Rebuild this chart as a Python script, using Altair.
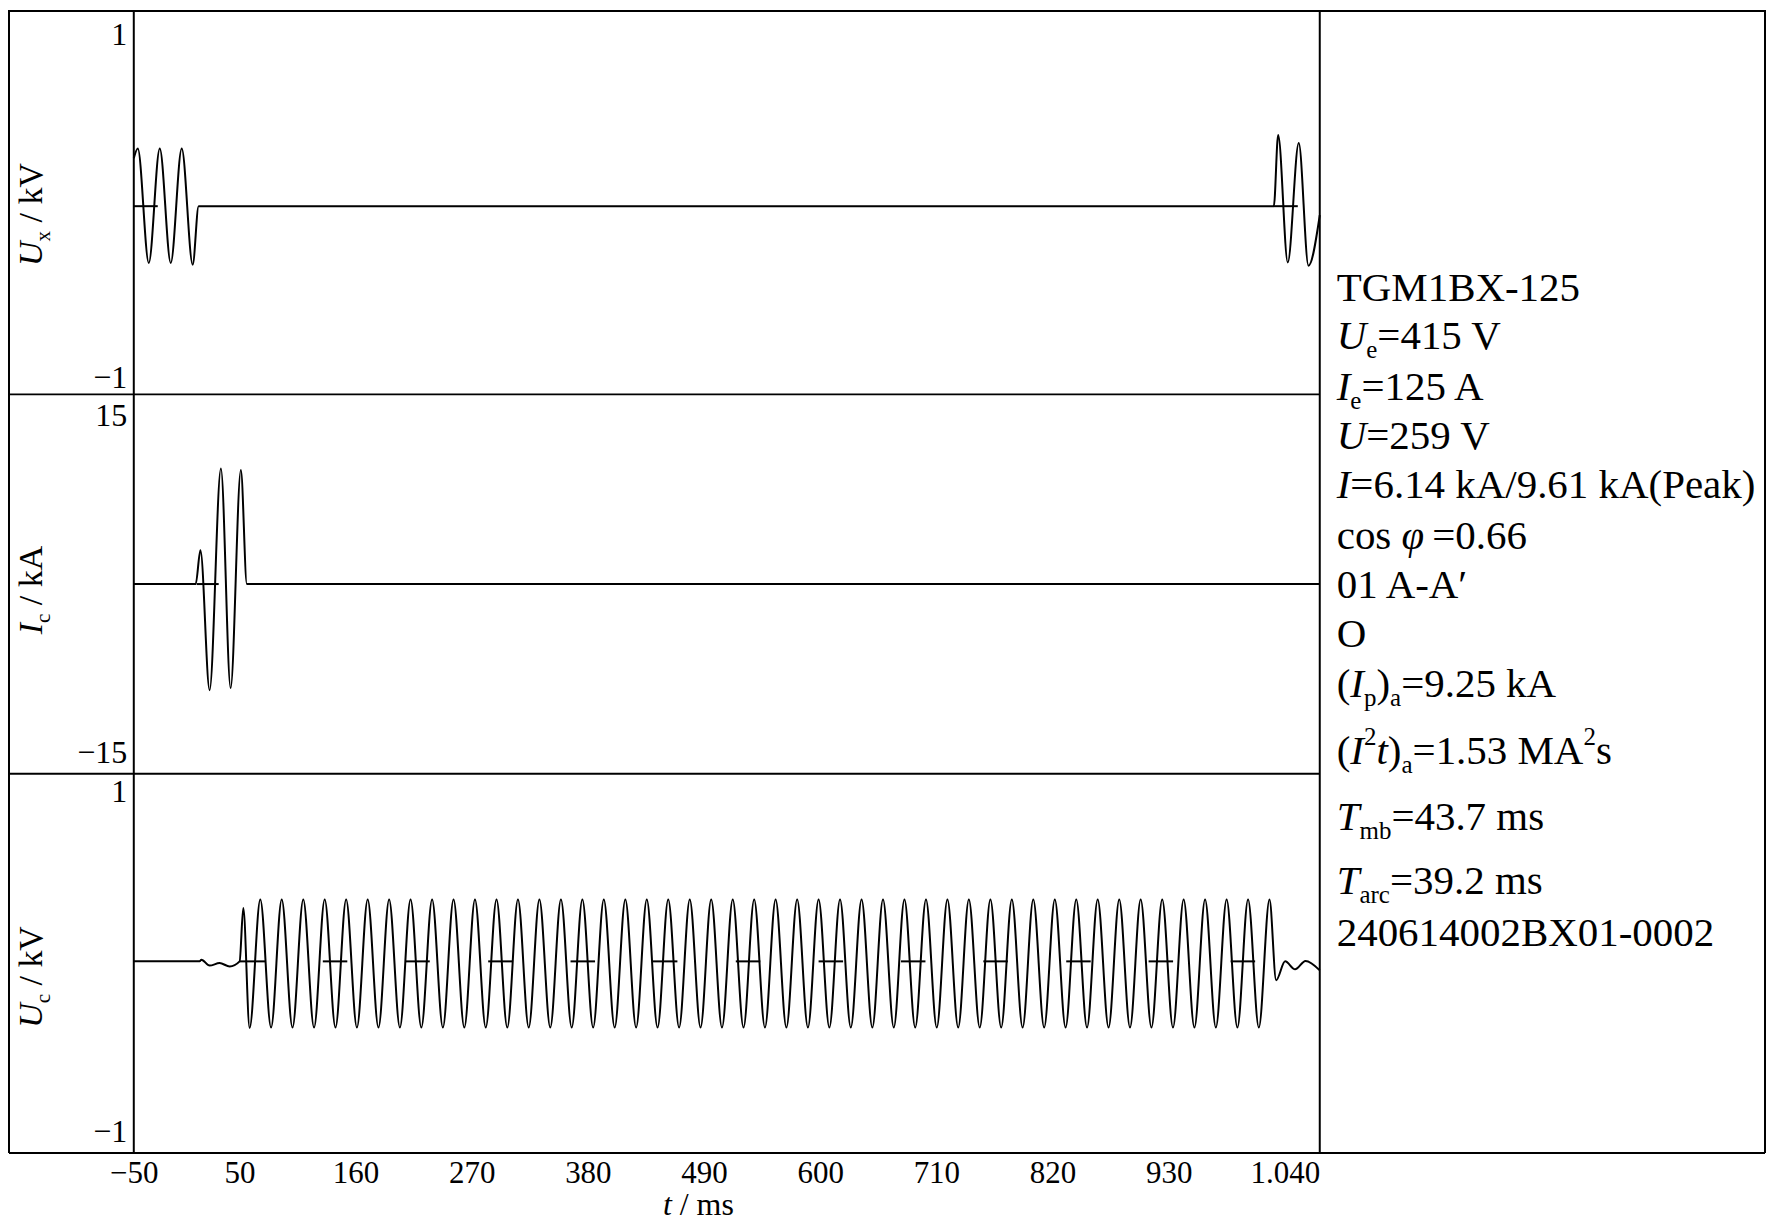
import altair as alt
import pandas as pd

# ---------------- data ----------------
# time axis in ms
X_DOMAIN = [-50.0, 1073.1]
X_TICKS = [-50, 50, 160, 270, 380, 490, 600, 710, 820, 930, 1040]

# U_x / kV  (extrema of the trace)
UX_T = [-50.0, -46.2, -35.8, -25.4, -15.0, -4.6, 5.8, 11.4,
        1029.6, 1033.7, 1042.8, 1053.2, 1062.4, 1073.1]
UX_V = [0.28, 0.337, -0.331, 0.337, -0.331, 0.337, -0.341, 0.0,
        0.0, 0.416, -0.328, 0.368, -0.347, -0.052]
UX_MARK_START = [-50.0, 1029.6]
UX_MARK_END = [-27.3, 1052.3]
UX_DOMAIN = [-1.098, 1.1445]
UX_TICKS = [-1, 1]

# I_c / kA
IC_T = [-50.0, 8.6, 13.1, 21.8, 32.5, 41.7, 51.4, 57.1, 1073.1]
IC_V = [0.0, 0.0, 3.0, -9.43, 10.27, -9.25, 10.14, 0.0, 0.0]
IC_MARK_START = [9.6]
IC_MARK_END = [30.4]
IC_DOMAIN = [-16.86, 16.86]
IC_TICKS = [-15, 15]

# U_c / kV
UC_HEAD_T = [-50.0, 12.4, 14.0, 21.8, 31.3, 40.8, 50.2, 53.7]
UC_HEAD_V = [0.0, 0.0, 0.01, -0.025, -0.01, -0.03, 0.0, 0.314]
UC_TROUGH_T = [59.7, 80.0, 100.3, 120.7, 141.0, 161.3, 181.7, 202.0, 222.3, 242.7,
               263.0, 283.3, 303.7, 324.0, 344.4, 364.7, 385.0, 405.4, 425.7, 446.0,
               466.4, 486.7, 507.0, 527.4, 547.7, 568.0, 588.4, 608.7, 629.0, 649.4,
               669.7, 690.0, 710.4, 730.7, 751.1, 771.4, 791.7, 812.1, 832.4, 852.7,
               873.1, 893.4, 913.7, 934.1, 954.4, 974.7, 995.1, 1015.4]
UC_TROUGH_V = [-0.392, -0.39, -0.39, -0.39, -0.39, -0.39, -0.39, -0.39, -0.39, -0.39,
               -0.39, -0.39, -0.39, -0.39, -0.39, -0.39, -0.39, -0.39, -0.39, -0.39,
               -0.39, -0.39, -0.39, -0.39, -0.39, -0.39, -0.39, -0.39, -0.39, -0.39,
               -0.39, -0.39, -0.39, -0.39, -0.39, -0.39, -0.39, -0.39, -0.39, -0.39,
               -0.39, -0.39, -0.39, -0.39, -0.39, -0.39, -0.39, -0.39]
UC_PEAK_T = [69.8, 90.1, 110.5, 130.8, 151.1, 171.5, 191.8, 212.1, 232.5, 252.8,
             273.1, 293.5, 313.8, 334.1, 354.5, 374.8, 395.1, 415.5, 435.8, 456.1,
             476.5, 496.8, 517.2, 537.5, 557.8, 578.2, 598.5, 618.8, 639.2, 659.5,
             679.8, 700.2, 720.5, 740.8, 761.2, 781.5, 801.8, 822.2, 842.5, 862.8,
             883.2, 903.5, 923.9, 944.2, 964.5, 984.9, 1005.2, 1025.5]
UC_PEAK_V = [0.365, 0.365, 0.365, 0.365, 0.365, 0.365, 0.365, 0.365, 0.365, 0.365,
             0.365, 0.365, 0.365, 0.365, 0.365, 0.365, 0.365, 0.365, 0.365, 0.365,
             0.365, 0.365, 0.365, 0.365, 0.365, 0.365, 0.365, 0.365, 0.365, 0.365,
             0.365, 0.365, 0.365, 0.365, 0.365, 0.365, 0.365, 0.365, 0.365, 0.365,
             0.365, 0.365, 0.365, 0.365, 0.365, 0.365, 0.365, 0.365]
UC_TAIL_T = [1031.8, 1040.3, 1049.7, 1059.6, 1073.1]
UC_TAIL_V = [-0.111, 0.0, -0.047, 0.002, -0.053]
UC_MARK_START = [50.2, 129.0, 207.1, 285.6, 363.6, 441.6, 520.1, 598.5, 676.5,
                 754.5, 833.0, 911.0, 988.7]
UC_MARK_END = [74.5, 152.2, 230.3, 308.8, 386.8, 464.8, 543.3, 621.7, 699.7,
               777.7, 856.2, 934.2, 1011.9]
UC_DOMAIN = [-1.129, 1.105]
UC_TICKS = [-1, 1]

# text (i = italic, s = subscript, p = superscript, n = normal)
INFO_LINES = [
    [("TGM1BX-125", "n")],
    [("U", "i"), ("e", "s"), ("=415 V", "n")],
    [("I", "i"), ("e", "s"), ("=125 A", "n")],
    [("U", "i"), ("=259 V", "n")],
    [("I", "i"), ("=6.14 kA/9.61 kA(Peak)", "n")],
    [("cos ", "n"), ("φ", "i"), (" =0.66", "n")],
    [("01 A-A′", "n")],
    [("O", "n")],
    [("(", "n"), ("I", "i"), ("p", "s"), (")", "n"), ("a", "s"), ("=9.25 kA", "n")],
    [("(", "n"), ("I", "i"), ("2", "p"), ("t", "i"), (")", "n"), ("a", "s"),
     ("=1.53 MA", "n"), ("2", "p"), ("s", "n")],
    [("T", "i"), ("mb", "s"), ("=43.7 ms", "n")],
    [("T", "i"), ("arc", "s"), ("=39.2 ms", "n")],
    [("240614002BX01-0002", "n")],
]
Y_TITLES = [
    [("U", "i"), ("x", "s"), (" / kV", "n")],
    [("I", "i"), ("c", "s"), (" / kA", "n")],
    [("U", "i"), ("c", "s"), (" / kV", "n")],
]
X_TITLE = [("t", "i"), (" / ms", "n")]

# ---------------- layout ----------------
W = 1188
H = [385, 380, 380]
TOP = [0, H[0], H[0] + H[1]]
TOTAL = sum(H)
TW = 446
LEFT = -125
FONT = "Liberation Serif"
YT_FS = 34      # rotated axis title size
YT_SUB = 21
XT_FS = 32

REG = {' ': 250, '(': 333, ')': 333, '-': 333, '.': 250, '/': 278, '=': 564,
       'A': 722, 'B': 667, 'G': 722, 'M': 889, 'O': 722, 'P': 556, 'T': 611,
       'V': 722, 'X': 722, 'a': 444, 'c': 444, 'e': 444, 'k': 500, 'm': 778,
       'o': 500, 's': 389, 'p': 500, 'b': 500, 'r': 333, 'x': 500, '′': 275}
ITA = {'U': 722, 'I': 333, 'T': 556, 't': 278, 'φ': 500}


def width(s, italic, fs):
    tot = 0
    for ch in s:
        if italic and ch in ITA:
            tot += ITA[ch]
        else:
            tot += REG.get(ch, 500)
    return tot / 1000.0 * fs


rows = []
# info block
INFO_BASE = [(y - 2) * 0.994 for y in [295, 344, 395, 444, 494, 545, 595, 644, 694,
                                       762, 828, 893, 945]]
for line, base in zip(INFO_LINES, INFO_BASE):
    x = W + 17
    for txt, st in line:
        fs = 41 if st in ("n", "i") else 25
        lead = len(txt) - len(txt.lstrip(" "))
        dy = 9 if st == "s" else (-19 if st == "p" else 0)
        style = {"n": "n41", "i": "i41", "s": "s25", "p": "s25"}[st]
        rows.append(dict(px=x + lead * 0.25 * fs, py=base + dy, txt=txt.strip(" "), style=style))
        x += width(txt, st == "i", fs)

# rotated y titles
Y_CENTER = [204.8, 581.0, 968.6]
for pieces, c in zip(Y_TITLES, Y_CENTER):
    sizes = [YT_SUB if st == "s" else YT_FS for _, st in pieces]
    L = sum(width(t, st == "i", fs) for (t, st), fs in zip(pieces, sizes))
    off = 0
    for (txt, st), fs in zip(pieces, sizes):
        lead = len(txt) - len(txt.lstrip(" "))
        style = {"n": "rn", "i": "ri", "s": "rs"}[st]
        rows.append(dict(px=-92 + (8 if st == "s" else 0),
                         py=c + L / 2 - off - lead * 0.25 * fs,
                         txt=txt.strip(" "), style=style))
        off += width(txt, st == "i", fs)

# x title
x = 530
for txt, st in X_TITLE:
    lead = len(txt) - len(txt.lstrip(" "))
    rows.append(dict(px=x + lead * 0.25 * XT_FS, py=TOTAL + 62, txt=txt.strip(" "),
                     style="xi" if st == "i" else "xn"))
    x += width(txt, st == "i", XT_FS)

text_df = pd.DataFrame(rows)

frame_df = pd.DataFrame([
    dict(x1=LEFT, x2=W + TW, y1=1, y2=1),
    dict(x1=LEFT, x2=W + TW, y1=TOTAL, y2=TOTAL),
    dict(x1=LEFT, x2=LEFT, y1=0, y2=TOTAL),
    dict(x1=0, x2=0, y1=0, y2=TOTAL),
    dict(x1=W, x2=W, y1=0, y2=TOTAL),
    dict(x1=W + TW, x2=W + TW, y1=0, y2=TOTAL),
    dict(x1=LEFT, x2=W, y1=TOP[1], y2=TOP[1]),
    dict(x1=LEFT, x2=W, y1=TOP[2], y2=TOP[2]),
])


def wave_df(t, v, ms, me):
    r = [dict(t=a, v=b, seg=0) for a, b in zip(t, v)]
    for i, (s, e) in enumerate(zip(ms, me)):
        r.append(dict(t=s, v=0.0, seg=i + 1))
        r.append(dict(t=e, v=0.0, seg=i + 1))
    return pd.DataFrame(r)


uc_t = list(UC_HEAD_T)
uc_v = list(UC_HEAD_V)
for tt, tv, pt, pv in zip(UC_TROUGH_T, UC_TROUGH_V, UC_PEAK_T, UC_PEAK_V):
    uc_t += [tt, pt]
    uc_v += [tv, pv]
uc_t += UC_TAIL_T
uc_v += UC_TAIL_V

panels = [
    (wave_df(UX_T, UX_V, UX_MARK_START, UX_MARK_END), UX_DOMAIN, UX_TICKS, 0),
    (wave_df(IC_T, IC_V, IC_MARK_START, IC_MARK_END), IC_DOMAIN, IC_TICKS, 1),
    (wave_df(uc_t, uc_v, UC_MARK_START, UC_MARK_END), UC_DOMAIN, UC_TICKS, 2),
]

x_enc = alt.X(
    "t:Q",
    scale=alt.Scale(domain=X_DOMAIN, nice=False, zero=False),
    axis=alt.Axis(values=X_TICKS, title=None, domain=False, ticks=False, tickSize=0,
                  grid=False, labelPadding=5, labelFont=FONT, labelFontSize=31,
                  labelColor="black", labelFlush=False, labelOverlap=False,
                  labelExpr="datum.value == 1040 ? '1.040' : datum.label"),
)

layers = [
    alt.Chart(frame_df).mark_rule(color="black", strokeWidth=2).encode(
        x=alt.X("x1:Q", scale=None, axis=None),
        x2="x2:Q",
        y=alt.Y("y1:Q", scale=None, axis=None),
        y2="y2:Q",
    )
]

for df, dom, ticks, i in panels:
    layers.append(
        alt.Chart(df).mark_line(interpolate="monotone", color="black", strokeWidth=2).encode(
            x=x_enc,
            y=alt.Y("v:Q",
                    scale=alt.Scale(domain=dom, range=[TOP[i] + H[i], TOP[i]], nice=False, zero=False),
                    axis=alt.Axis(values=ticks, title=None, orient="left", domain=False,
                                  ticks=False, tickSize=0, grid=False, labelPadding=7,
                                  labelFont=FONT, labelFontSize=32, labelColor="black",
                                  labelOverlap=False)),
            detail="seg:N",
        )
    )

STYLE_PROPS = {
    "n41": dict(fontSize=41),
    "i41": dict(fontSize=41, fontStyle="italic"),
    "s25": dict(fontSize=25),
    "xn": dict(fontSize=XT_FS),
    "xi": dict(fontSize=XT_FS, fontStyle="italic"),
    "rn": dict(fontSize=YT_FS, angle=270),
    "ri": dict(fontSize=YT_FS, fontStyle="italic", angle=270),
    "rs": dict(fontSize=YT_SUB, angle=270),
}
for key, props in STYLE_PROPS.items():
    layers.append(
        alt.Chart(text_df).transform_filter(alt.datum.style == key).mark_text(
            font=FONT, align="left", baseline="alphabetic", color="black", **props
        ).encode(
            x=alt.X("px:Q", scale=None, axis=None),
            y=alt.Y("py:Q", scale=None, axis=None),
            text="txt:N",
        )
    )

chart = alt.layer(*layers).resolve_scale(y="independent").properties(
    width=W, height=TOTAL, padding=0, background="white"
).configure_view(strokeWidth=0)

chart.save("out.html", embed_options={"renderer": "svg", "actions": False})
